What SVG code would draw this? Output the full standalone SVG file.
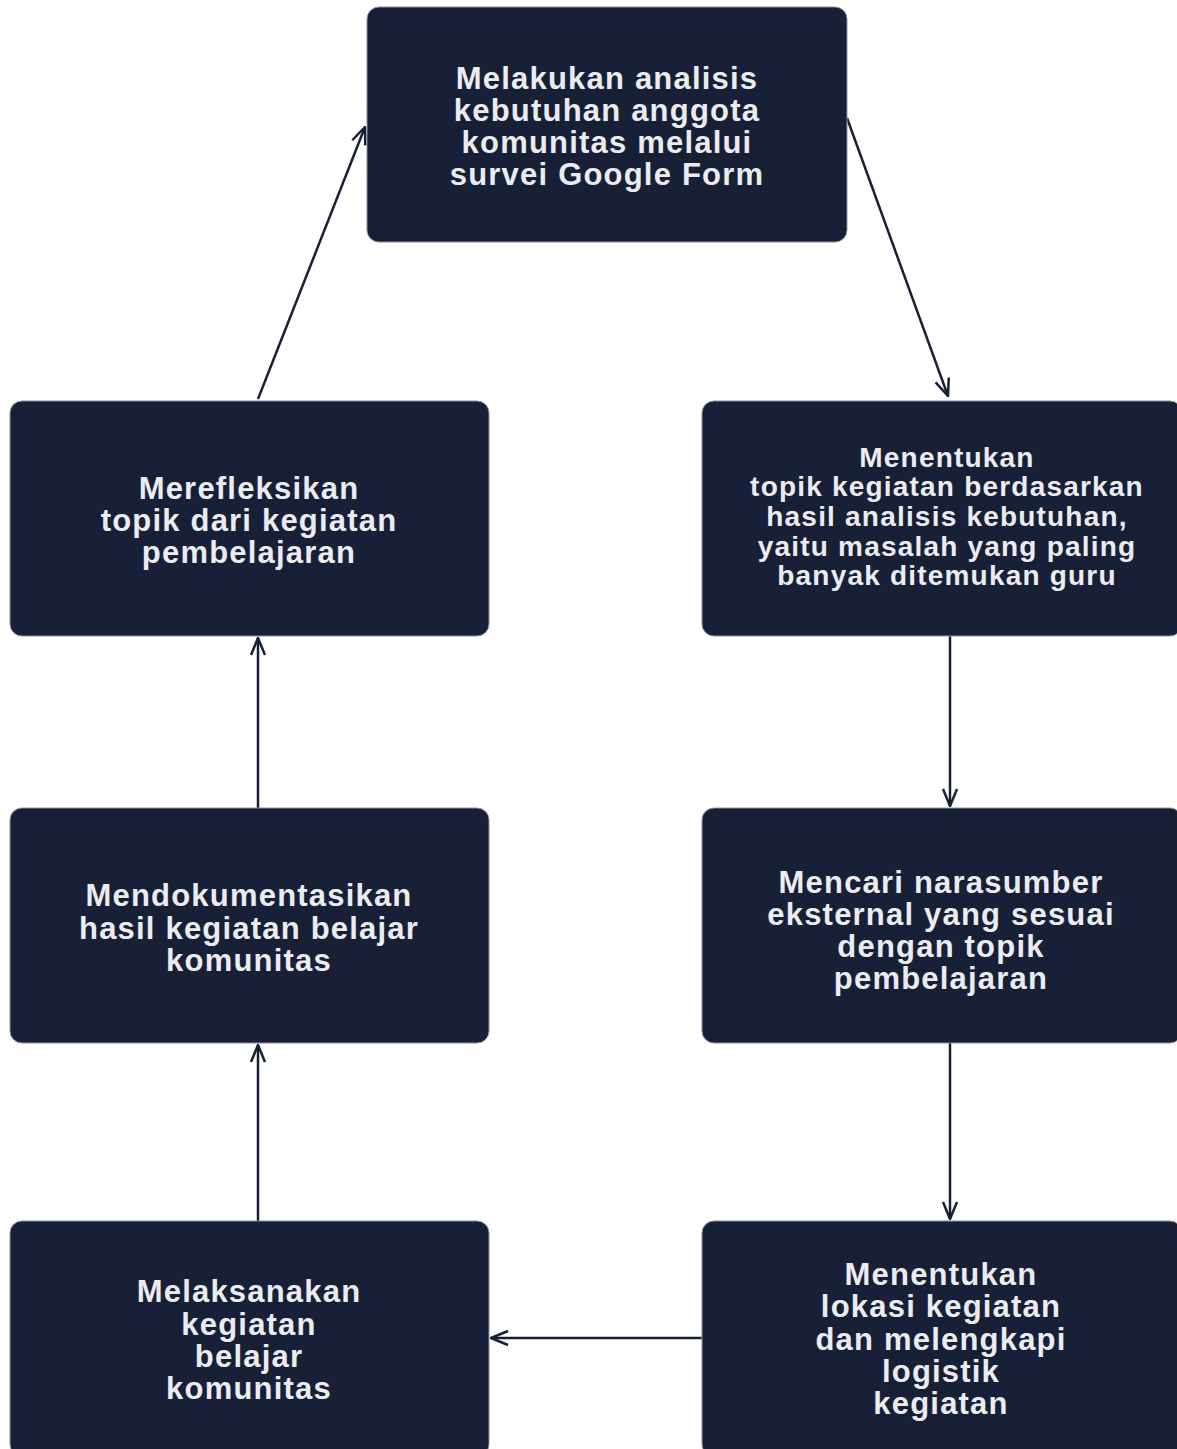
<svg xmlns="http://www.w3.org/2000/svg" width="1177" height="1449" viewBox="0 0 1177 1449">
<style>
.box{fill:#172036;stroke:#8a90a0;stroke-width:1}
.t{font-family:"Liberation Sans",Arial,sans-serif;font-weight:bold;fill:#ececf0;text-anchor:middle;font-size:31px;letter-spacing:1.2px}
.s{font-size:28px}
.c{stroke:#172036;stroke-width:2.5;fill:none}
</style>
<defs>
<marker id="ah" viewBox="0 0 20 20" refX="19" refY="10" markerWidth="20" markerHeight="20" markerUnits="userSpaceOnUse" orient="auto">
<path d="M2,3 L19,10 L2,17" fill="none" stroke="#172036" stroke-width="2.5"/>
</marker>
</defs>
<rect width="1177" height="1449" fill="#ffffff"/>
<g id="connectors">
<line class="c" x1="258" y1="399" x2="365" y2="127" marker-end="url(#ah)"/>
<line class="c" x1="847" y1="118" x2="948" y2="396" marker-end="url(#ah)"/>
<line class="c" x1="950" y1="636" x2="950" y2="806" marker-end="url(#ah)"/>
<line class="c" x1="950" y1="1043" x2="950" y2="1219" marker-end="url(#ah)"/>
<line class="c" x1="702" y1="1338" x2="491" y2="1338" marker-end="url(#ah)"/>
<line class="c" x1="258" y1="1221" x2="258" y2="1045" marker-end="url(#ah)"/>
<line class="c" x1="258" y1="808" x2="258" y2="638" marker-end="url(#ah)"/>
</g>
<g id="n1">
<rect class="box" x="367" y="7" width="480" height="235" rx="12"/>
<text class="t" x="607"><tspan x="607" y="89">Melakukan analisis</tspan><tspan x="607" y="121">kebutuhan anggota</tspan><tspan x="607" y="153">komunitas melalui</tspan><tspan x="607" y="185">survei Google Form</tspan></text>
</g>
<g id="n2">
<rect class="box" x="702" y="401" width="480" height="235" rx="12"/>
<text class="t s" x="947"><tspan x="947" y="467">Menentukan</tspan><tspan x="947" y="496">topik kegiatan berdasarkan</tspan><tspan x="947" y="526">hasil analisis kebutuhan,</tspan><tspan x="947" y="556">yaitu masalah yang paling</tspan><tspan x="947" y="585">banyak ditemukan guru</tspan></text>
</g>
<g id="n3">
<rect class="box" x="702" y="808" width="480" height="235" rx="12"/>
<text class="t" x="941"><tspan x="941" y="893">Mencari narasumber</tspan><tspan x="941" y="925">eksternal yang sesuai</tspan><tspan x="941" y="957">dengan topik</tspan><tspan x="941" y="989">pembelajaran</tspan></text>
</g>
<g id="n4">
<rect class="box" x="702" y="1221" width="480" height="235" rx="12"/>
<text class="t" x="941"><tspan x="941" y="1285">Menentukan</tspan><tspan x="941" y="1317">lokasi kegiatan</tspan><tspan x="941" y="1350">dan melengkapi</tspan><tspan x="941" y="1382">logistik</tspan><tspan x="941" y="1414">kegiatan</tspan></text>
</g>
<g id="n5">
<rect class="box" x="10" y="1221" width="479" height="235" rx="12"/>
<text class="t" x="249"><tspan x="249" y="1302">Melaksanakan</tspan><tspan x="249" y="1335">kegiatan</tspan><tspan x="249" y="1367">belajar</tspan><tspan x="249" y="1399">komunitas</tspan></text>
</g>
<g id="n6">
<rect class="box" x="10" y="808" width="479" height="235" rx="12"/>
<text class="t" x="249"><tspan x="249" y="906">Mendokumentasikan</tspan><tspan x="249" y="939">hasil kegiatan belajar</tspan><tspan x="249" y="971">komunitas</tspan></text>
</g>
<g id="n7">
<rect class="box" x="10" y="401" width="479" height="235" rx="12"/>
<text class="t" x="249"><tspan x="249" y="499">Merefleksikan</tspan><tspan x="249" y="531">topik dari kegiatan</tspan><tspan x="249" y="563">pembelajaran</tspan></text>
</g>
</svg>
